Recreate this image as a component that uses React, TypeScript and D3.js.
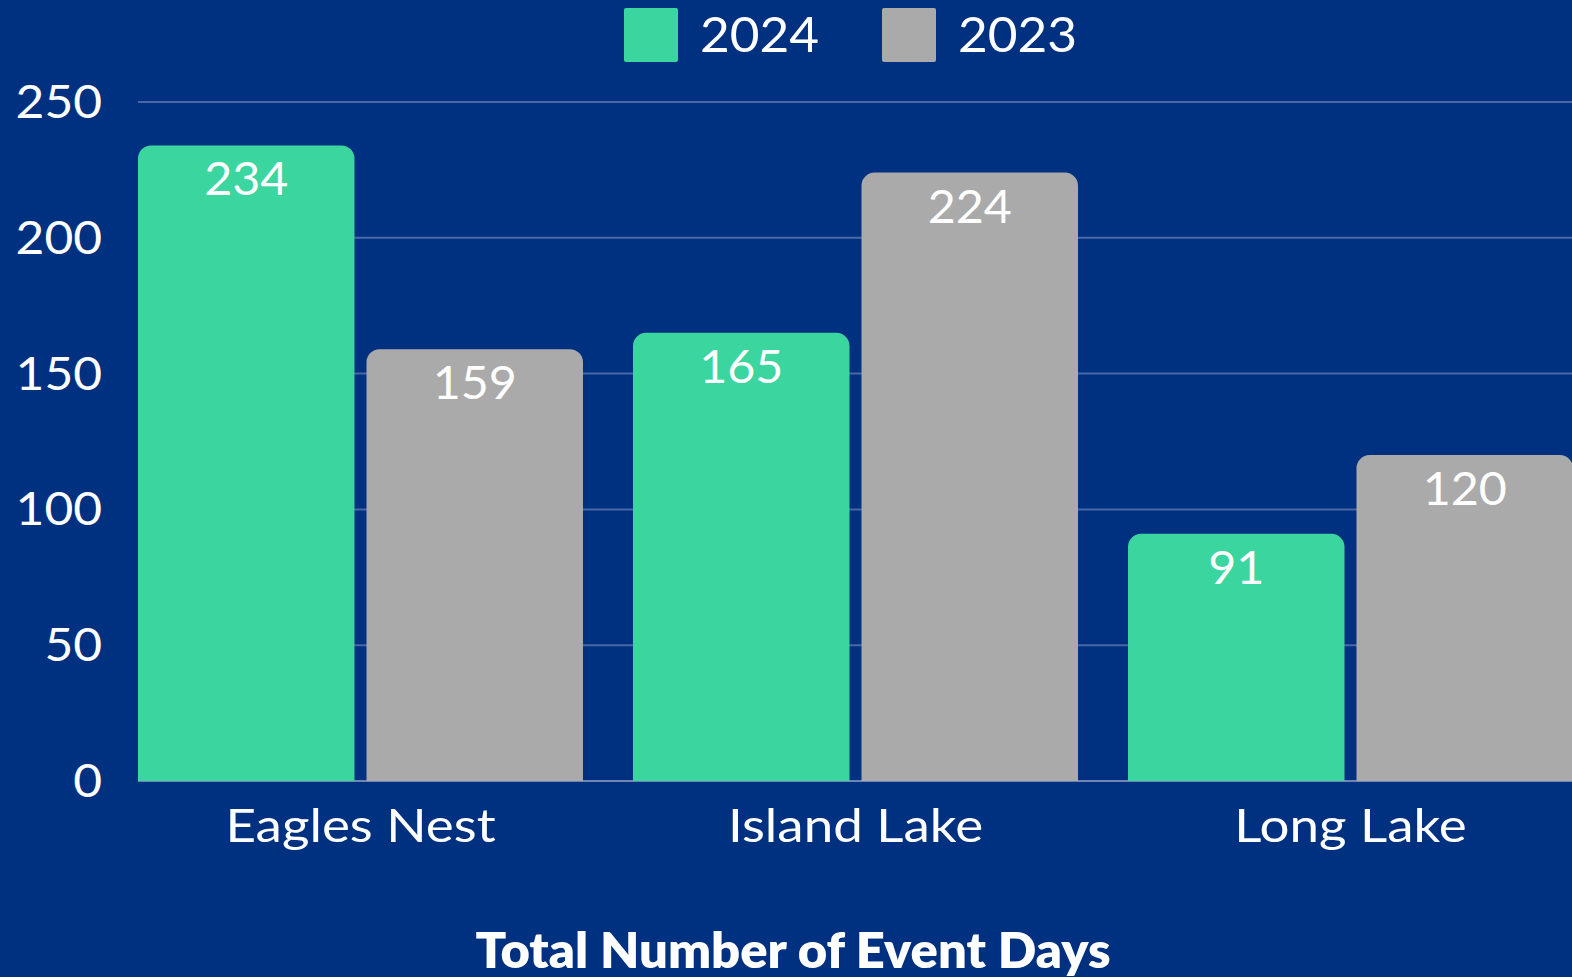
import React from "react";
import * as d3 from "d3";

const categories = ["Eagles Nest", "Island Lake", "Long Lake"];
const seriesNames = ["2024", "2023"];
const values2024 = [234, 165, 91];
const values2023 = [159, 224, 120];
const yTicks = [0, 50, 100, 150, 200, 250];
const title = "Total Number of Event Days";

const W = 1572;
const H = 977;
const BG = "#003180";
const GREEN = "#3bd59f";
const GRAY = "#aaaaaa";
const FONT = "Lato, 'Open Sans', sans-serif";

function topRoundedRect(x: number, y: number, w: number, h: number, r: number) {
  const rr = Math.min(r, w / 2, h);
  const p = d3.path();
  p.moveTo(x, y + h);
  p.lineTo(x, y + rr);
  p.arcTo(x, y, x + rr, y, rr);
  p.lineTo(x + w - rr, y);
  p.arcTo(x + w, y, x + w, y + rr, rr);
  p.lineTo(x + w, y + h);
  p.closePath();
  return p.toString();
}

function WideText(props: {
  x: number;
  y: number;
  sx: number;
  size: number;
  anchor: "start" | "middle" | "end";
  weight?: number;
  children: React.ReactNode;
}) {
  return (
    <g transform={`translate(${props.x},${props.y}) scale(${props.sx},1)`}>
      <text
        x={0}
        y={0}
        textAnchor={props.anchor}
        fill="#ffffff"
        fontFamily={FONT}
        fontWeight={props.weight ?? 400}
        fontSize={props.size}
      >
        {props.children}
      </text>
    </g>
  );
}

export default function App() {
  const colors = [GREEN, GRAY];
  const seriesValues = [values2024, values2023];

  const y = d3.scaleLinear().domain([0, 250]).range([781, 102]);
  const x0 = d3
    .scaleBand<string>()
    .domain(categories)
    .range([138, 1573])
    .paddingInner(0.101)
    .paddingOuter(0);
  const x1 = d3
    .scaleBand<string>()
    .domain(seriesNames)
    .range([0, x0.bandwidth()])
    .paddingInner(0.0525)
    .paddingOuter(0);

  return (
    <svg
      width={W}
      height={H}
      style={{ position: "absolute", left: 0, top: 0, display: "block" }}
    >
      <rect x={0} y={0} width={W} height={H} fill={BG} />
      {/* gridlines */}
      {yTicks.map((t) => (
        <line
          key={t}
          x1={138}
          x2={W}
          y1={y(t)}
          y2={y(t)}
          stroke={t === 0 ? "#6f86b4" : "#4a68a6"}
          strokeWidth={2}
        />
      ))}
      {/* tick labels */}
      {yTicks.map((t) => (
        <WideText key={"l" + t} x={102} y={y(t) + 16} sx={1.08} size={46} anchor="end">
          {t}
        </WideText>
      ))}
      {/* bars */}
      {categories.map((c, ci) => (
        <g key={c} transform={`translate(${x0(c)},0)`}>
          {seriesNames.map((s, si) => {
            const v = seriesValues[si][ci];
            const bx = x1(s) as number;
            const bw = x1.bandwidth();
            const by = y(v);
            return (
              <g key={s}>
                <path
                  d={topRoundedRect(bx, by, bw, y(0) - by, 13)}
                  fill={colors[si]}
                />
                <WideText x={bx + bw / 2} y={by + 50} sx={1.03} size={47} anchor="middle">
                  {v}
                </WideText>
              </g>
            );
          })}
          <WideText x={x0.bandwidth() / 2} y={842} sx={1.15} size={46} anchor="middle">
            {c}
          </WideText>
        </g>
      ))}
      {/* legend */}
      {seriesNames.map((s, i) => {
        const lx = [624, 882][i];
        return (
          <g key={"lg" + s}>
            <rect x={lx} y={8} width={54} height={54} rx={2} fill={colors[i]} />
            <WideText x={lx + 76} y={52} sx={1.07} size={48} anchor="start">
              {s}
            </WideText>
          </g>
        );
      })}
      {/* title */}
      <text
        x={793}
        y={968}
        textAnchor="middle"
        fill="#ffffff"
        fontFamily={FONT}
        fontWeight={800}
        fontSize={50}
        textLength={635}
        lengthAdjust="spacingAndGlyphs"
      >
        {title}
      </text>
    </svg>
  );
}
